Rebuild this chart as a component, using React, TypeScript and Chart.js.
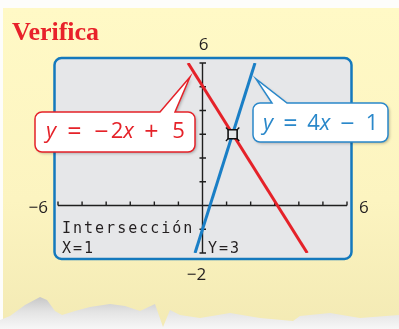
import React, { useEffect, useRef } from "react";
import { Chart, registerables } from "chart.js";

Chart.register(...registerables);

// ---- data ----
const xRange = [-6, 6];
const yRange = [-2, 6];
const xTickValues = [-6, -5, -4, -3, -2, -1, 0, 1, 2, 3, 4, 5, 6];
const yTickValues = [-2, -1, 0, 1, 2, 3, 4, 5, 6];
const axisEndLabels = ["−6", "6", "6", "−2"]; // left, right, top, bottom
const redLineX = [-0.6, 4.35];
const redLineY = [6, -2];
const blueLineX = [2.18, -0.31];
const blueLineY = [6, -2];
const intersectionX = [1.25];
const intersectionY = [3];
const redEquation = ["y", "=", "−", "2", "x", "+", "5"];
const blueEquation = ["y", "=", "4", "x", "−", "1"];
const screenLines = ["Intersección", "X=1", "Y=3"];
const titleText = "Verifica";

const RED = "#E52229";
const BLUE = "#1A7FC6";
const FRAME = "#1479BD";
const SCREEN = "#E6E7E9";
const INK = "#231F20";

function pts(xs: number[], ys: number[]) {
  return xs.map((x, i) => ({ x, y: ys[i] }));
}

function roundRect(ctx: CanvasRenderingContext2D, x: number, y: number, w: number, h: number, r: number) {
  ctx.beginPath();
  ctx.moveTo(x + r, y);
  ctx.lineTo(x + w - r, y);
  ctx.arcTo(x + w, y, x + w, y + r, r);
  ctx.lineTo(x + w, y + h - r);
  ctx.arcTo(x + w, y + h, x + w - r, y + h, r);
  ctx.lineTo(x + r, y + h);
  ctx.arcTo(x, y + h, x, y + h - r, r);
  ctx.lineTo(x, y + r);
  ctx.arcTo(x, y, x + r, y, r);
  ctx.closePath();
}

function calloutPath(
  ctx: CanvasRenderingContext2D,
  x: number, y: number, w: number, h: number, r: number,
  b1: number, b2: number, tx: number, ty: number
) {
  ctx.beginPath();
  ctx.moveTo(x + r, y);
  ctx.lineTo(b1, y);
  ctx.lineTo(tx, ty);
  ctx.lineTo(b2, y);
  ctx.lineTo(x + w - r, y);
  ctx.arcTo(x + w, y, x + w, y + r, r);
  ctx.lineTo(x + w, y + h - r);
  ctx.arcTo(x + w, y + h, x + w - r, y + h, r);
  ctx.lineTo(x + r, y + h);
  ctx.arcTo(x, y + h, x, y + h - r, r);
  ctx.lineTo(x, y + r);
  ctx.arcTo(x, y, x + r, y, r);
  ctx.closePath();
}

function drawCallout(
  ctx: CanvasRenderingContext2D,
  color: string,
  box: [number, number, number, number],
  base: [number, number],
  tip: [number, number],
  tokens: string[],
  centers: number[],
  baseline: number
) {
  const [x, y, w, h] = box;
  ctx.save();
  calloutPath(ctx, x, y, w, h, 7, base[0], base[1], tip[0], tip[1]);
  ctx.shadowColor = "rgba(0,0,0,0.28)";
  ctx.shadowBlur = 3;
  ctx.shadowOffsetX = 1.5;
  ctx.shadowOffsetY = 1.5;
  ctx.fillStyle = "#FFFFFF";
  ctx.fill();
  ctx.shadowColor = "transparent";
  ctx.lineWidth = 1.5;
  ctx.strokeStyle = color;
  ctx.stroke();
  ctx.fillStyle = color;
  ctx.textBaseline = "alphabetic";
  ctx.textAlign = "center";
  tokens.forEach((t, i) => {
    const italic = t === "x" || t === "y";
    const op = t === "=" || t === "+" || t === "−";
    const size = op ? 25 : 22;
    ctx.font = (italic ? "italic " : "") + size + "px 'Open Sans', 'Noto Sans', sans-serif";
    ctx.fillText(t, centers[i], baseline + (op ? 1.5 : 0));
  });
  ctx.restore();
}

const decorPlugin = {
  id: "decor",
  beforeDraw(chart: any) {
    const ctx: CanvasRenderingContext2D = chart.ctx;
    const W = chart.width, H = chart.height;
    ctx.save();
    ctx.fillStyle = "#FDFDFB";
    ctx.fillRect(0, 0, W, H);
    const g = ctx.createLinearGradient(0, 8, 0, H);
    g.addColorStop(0, "#FFF9C6");
    g.addColorStop(0.6, "#FCF4C0");
    g.addColorStop(1, "#F3EAB4");
    ctx.fillStyle = g;
    ctx.fillRect(3, 8, W - 3, H - 8);

    // torn paper at bottom
    const edge: [number, number][] = [
      [0, 320], [10, 316], [25, 305], [40, 297], [47, 300], [55, 311], [62, 315],
      [75, 311], [90, 307], [110, 304], [125, 306], [140, 311], [155, 304],
      [163, 327], [170, 310], [180, 315], [200, 318], [230, 313], [260, 318],
      [293, 321], [300, 316], [330, 313], [360, 318], [399, 315],
    ];
    ctx.beginPath();
    ctx.moveTo(0, H);
    edge.forEach(([x, y]) => ctx.lineTo(x, y));
    ctx.lineTo(W, H);
    ctx.closePath();
    const tg = ctx.createLinearGradient(0, 298, 0, H);
    tg.addColorStop(0, "#C9C9C9");
    tg.addColorStop(0.45, "#E4E4E4");
    tg.addColorStop(1, "#F7F7F7");
    ctx.fillStyle = tg;
    ctx.fill();

    // title
    ctx.fillStyle = "#E8212A";
    ctx.font = "bold 26px 'Liberation Serif', 'DejaVu Serif', serif";
    ctx.textBaseline = "alphabetic";
    ctx.textAlign = "left";
    ctx.fillText(titleText, 12, 40);

    // calculator screen
    roundRect(ctx, 54.5, 58, 297, 201, 7);
    ctx.fillStyle = SCREEN;
    ctx.fill();
    ctx.lineWidth = 2.5;
    ctx.strokeStyle = FRAME;
    ctx.stroke();
    ctx.restore();
  },
  beforeDatasetsDraw(chart: any) {
    const ctx: CanvasRenderingContext2D = chart.ctx;
    const xs = chart.scales.x, ys = chart.scales.y;
    const x0 = xs.getPixelForValue(0), y0 = ys.getPixelForValue(0);
    ctx.save();
    ctx.strokeStyle = "#1F1F1F";
    ctx.lineWidth = 1.4;
    ctx.beginPath();
    ctx.moveTo(xs.getPixelForValue(xRange[0]), y0);
    ctx.lineTo(xs.getPixelForValue(xRange[1]), y0);
    ctx.moveTo(x0, ys.getPixelForValue(yRange[1]));
    ctx.lineTo(x0, ys.getPixelForValue(yRange[0]));
    xTickValues.forEach((v) => {
      const px = xs.getPixelForValue(v);
      ctx.moveTo(px, y0);
      ctx.lineTo(px, y0 - 4);
    });
    yTickValues.forEach((v) => {
      const py = ys.getPixelForValue(v);
      ctx.moveTo(x0 - 3, py);
      ctx.lineTo(x0 + 3.5, py);
    });
    ctx.stroke();
    ctx.restore();
  },
  afterDraw(chart: any) {
    const ctx: CanvasRenderingContext2D = chart.ctx;
    const xs = chart.scales.x, ys = chart.scales.y;
    const x0 = xs.getPixelForValue(0), y0 = ys.getPixelForValue(0);
    ctx.save();

    // axis end labels
    ctx.fillStyle = INK;
    ctx.font = "17px 'Open Sans', 'Noto Sans', sans-serif";
    ctx.textBaseline = "alphabetic";
    ctx.textAlign = "right";
    ctx.fillText(axisEndLabels[0], xs.getPixelForValue(xRange[0]) - 10, y0 + 7);
    ctx.textAlign = "left";
    ctx.fillText(axisEndLabels[1], xs.getPixelForValue(xRange[1]) + 12, y0 + 7);
    ctx.textAlign = "center";
    ctx.fillText(axisEndLabels[2], x0 + 1, ys.getPixelForValue(yRange[1]) - 13);
    ctx.fillText(axisEndLabels[3], x0 - 6, ys.getPixelForValue(yRange[0]) + 27);

    // screen text
    ctx.font = "15px 'DejaVu Sans Mono', monospace";
    (ctx as any).letterSpacing = "2px";
    ctx.textAlign = "left";
    ctx.fillStyle = INK;
    ctx.fillText(screenLines[0], 62, 233);
    ctx.fillText(screenLines[1], 62, 253);
    ctx.fillText(screenLines[2], 208, 253);
    (ctx as any).letterSpacing = "0px";
    ctx.restore();

    // callouts
    drawCallout(ctx, RED, [35, 112, 160, 40], [160, 175], [190, 77], redEquation,
      [51, 74.5, 101.5, 117, 128.5, 151.5, 178.5], 138);
    drawCallout(ctx, "#2A88CA", [253, 103, 135, 39], [272, 287], [256, 79], blueEquation,
      [268, 290.5, 313.5, 325, 347.5, 372], 130);
  },
};

export default function App() {
  const ref = useRef<HTMLCanvasElement | null>(null);
  useEffect(() => {
    if (!ref.current) return;
    const chart = new Chart(ref.current, {
      type: "scatter",
      data: {
        datasets: [
          {
            label: "Intersección",
            data: pts(intersectionX, intersectionY),
            pointStyle: "rect",
            pointRadius: 6.4,
            backgroundColor: SCREEN,
            borderColor: "#111111",
            borderWidth: 1.6,
          },
          {
            label: "cursor",
            data: pts(intersectionX, intersectionY),
            pointStyle: "crossRot",
            pointRadius: 9.5,
            borderColor: "#111111",
            borderWidth: 1.3,
          },
          {
            label: "y = −2x + 5",
            data: pts(redLineX, redLineY),
            showLine: true,
            borderColor: RED,
            borderWidth: 3,
            pointRadius: 0,
          },
          {
            label: "y = 4x − 1",
            data: pts(blueLineX, blueLineY),
            showLine: true,
            borderColor: BLUE,
            borderWidth: 3,
            pointRadius: 0,
          },
        ],
      },
      options: {
        animation: false,
        responsive: false,
        events: [],
        layout: { padding: { left: 58, right: 52, top: 63, bottom: 76 } },
        plugins: { legend: { display: false }, tooltip: { enabled: false } },
        scales: {
          x: { type: "linear", min: xRange[0], max: xRange[1], display: false },
          y: { type: "linear", min: yRange[0], max: yRange[1], display: false },
        },
      },
      plugins: [decorPlugin],
    });
    return () => chart.destroy();
  }, []);
  return (
    <div style={{ position: "fixed", left: 0, top: 0, width: 399, height: 329 }}>
      <canvas ref={ref} width={399} height={329} style={{ display: "block" }} />
    </div>
  );
}
